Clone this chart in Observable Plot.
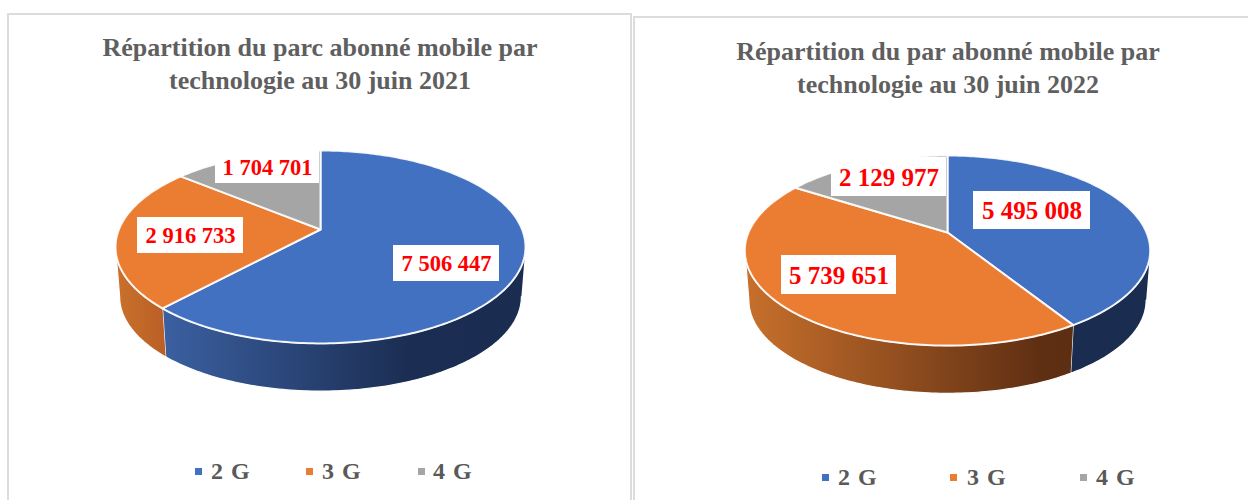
<!DOCTYPE html>
<html lang="fr">
<head>
<meta charset="utf-8">
<script src="https://cdn.jsdelivr.net/npm/d3@7"></script>
<script src="https://cdn.jsdelivr.net/npm/@observablehq/plot@0.6"></script>
<style>
  html, body { margin: 0; padding: 0; background: #fff; }
  #page { position: relative; width: 1248px; height: 500px; overflow: hidden; font-family: "Liberation Serif", serif; }
  .panel { position: absolute; box-sizing: border-box; background: #fff; border: 2px solid #dcdcdc; border-bottom: none; overflow: hidden; }
  .title { position: absolute; left: 0; right: 0; text-align: center; color: #5f5f5f; font-weight: bold; font-size: 26px; line-height: 33px; white-space: nowrap; }
  .legend-item { position: absolute; color: #595959; font-weight: bold; font-size: 24px; line-height: 28px; letter-spacing: 1px; white-space: pre; }
  .swatch { position: absolute; width: 7px; height: 7px; }
  svg { position: absolute; }
</style>
</head>
<body>
<div id="page"></div>
<script>
const technologies = ["2 G", "3 G", "4 G"];
const values2021 = [7506447, 2916733, 1704701];
const values2022 = [5495008, 5739651, 2129977];
const colors = ["#4371C1", "#EA7D32", "#A5A5A5"];

const fmt = d3.formatLocale({thousands: " ", grouping: [3], decimal: ","}).format(",d");

const panels = [
  {
    key: "p21", values: values2021,
    box: {left: 7, top: 13, width: 625, height: 487},
    title: ["Répartition du parc abonné mobile par", "technologie au 30 juin 2021"], titleCx: 320, titleTop: 31,
    cx: 320, cy: 229, A: 201.6, B: 93.3, k: 0.181, s: 0.98, depth: 50,
    boxes: [[393, 499, 245, 281], [137, 243, 217, 253], [215, 319, 150, 183]],
    fontSize: 22.5,
    wallStops: [
      [[0, "#3b60a1"], [0.68, "#1b2d52"], [1, "#1a2c50"]],
      [[0, "#cb712c"], [1, "#b95f26"]],
      [[0, "#7c7c7c"], [1, "#7c7c7c"]]
    ],
    legendSwatch: [195, 306, 418], legendText: [211, 322, 433], legendY: 471
  },
  {
    key: "p22", values: values2022,
    box: {left: 633, top: 16, width: 630, height: 484},
    title: ["Répartition du par abonné mobile par", "technologie au 30 juin 2022"], titleCx: 948, titleTop: 35,
    cx: 947, cy: 232, A: 199, B: 91.6, k: 0.19, s: 0.98, depth: 50,
    boxes: [[973, 1090, 191, 229], [781, 896, 255, 294], [831, 946, 157, 196]],
    fontSize: 25,
    wallStops: [
      [[0, "#1a2c50"], [1, "#1a2c50"]],
      [[0, "#c8702c"], [0.9, "#5f2f13"], [1, "#5e2e12"]],
      [[0, "#7c7c7c"], [1, "#7c7c7c"]]
    ],
    legendSwatch: [822, 950, 1080], legendText: [838, 967, 1096], legendY: 477
  }
];

const page = document.getElementById("page");

function drawPanel(p) {
  const svgTop = 130, svgHeight = 275;
  const total = d3.sum(p.values);
  const cum = d3.cumsum(p.values).map(v => v / total * 360);
  const starts = [0, ...cum.slice(0, -1)];
  const rad = d => d * Math.PI / 180;

  // perspective projection of the disc; scale s and drop give the lower rim
  const project = (deg, s = 1, drop = 0) => {
    const X = Math.sin(rad(deg)), Y = Math.cos(rad(deg)), w = 1 + p.k * Y;
    return {x: p.cx + s * p.A * X / w, y: p.cy + drop - s * p.B * Y / w};
  };
  const sweep = (a, b) => {
    const n = Math.max(2, Math.ceil(Math.abs(b - a)));
    return d3.range(n + 1).map(i => a + (b - a) * i / n);
  };

  // angular range of the visible front wall
  const edge = Math.acos(-p.k) * 180 / Math.PI;
  const visibleFrom = edge, visibleTo = 360 - edge;

  const faces = p.values.map((v, i) => [
    {x: p.cx, y: p.cy},
    ...sweep(starts[i], cum[i]).map(d => project(d)),
    {x: p.cx, y: p.cy}
  ]);

  const walls = p.values.map((v, i) => {
    const a = Math.max(starts[i], visibleFrom), b = Math.min(cum[i], visibleTo);
    if (b <= a) return null;
    return [
      ...sweep(a, b).map(d => project(d)),
      ...sweep(b, a).map(d => project(d, p.s, p.depth))
    ];
  });

  const defs = () => {
    const ns = "http://www.w3.org/2000/svg";
    const g = document.createElementNS(ns, "defs");
    p.wallStops.forEach((stops, i) => {
      const lg = document.createElementNS(ns, "linearGradient");
      lg.setAttribute("id", `${p.key}-wall-${i}`);
      stops.forEach(([o, c]) => {
        const st = document.createElementNS(ns, "stop");
        st.setAttribute("offset", o);
        st.setAttribute("stop-color", c);
        lg.appendChild(st);
      });
      g.appendChild(lg);
    });
    return g;
  };

  const labels = p.values.map((v, i) => {
    const [x1, x2, y1, y2] = p.boxes[i];
    return {x1, x2, y1, y2, x: (x1 + x2) / 2, y: (y1 + y2) / 2 + 0.5, text: fmt(v)};
  });

  const left = p.box.left + 2, width = Math.min(1248 - left, p.box.width - 4);

  const chart = Plot.plot({
    width, height: svgHeight,
    margin: 0,
    x: {domain: [left, left + width], axis: null},
    y: {domain: [svgTop, svgTop + svgHeight], reverse: true, axis: null},
    style: {background: "transparent"},
    marks: [
      defs,
      ...walls.map((w, i) => w && Plot.line(w, {
        x: "x", y: "y",
        fill: `url(#${p.key}-wall-${i})`,
        stroke: "#ffffff", strokeWidth: 1.2, strokeLinejoin: "round"
      })).filter(Boolean),
      ...faces.map((f, i) => Plot.line(f, {
        x: "x", y: "y",
        fill: colors[i],
        stroke: "#ffffff", strokeOpacity: 0.9, strokeWidth: 2, strokeLinejoin: "round"
      })),
      Plot.rect(labels, {x1: "x1", x2: "x2", y1: "y1", y2: "y2", fill: "#ffffff"}),
      Plot.text(labels, {
        x: "x", y: "y", text: "text",
        fill: "#ff0000", fontSize: p.fontSize, fontWeight: "bold",
        fontFamily: "Liberation Serif"
      })
    ]
  });

  const panel = document.createElement("div");
  panel.className = "panel";
  Object.assign(panel.style, {
    left: p.box.left + "px", top: p.box.top + "px",
    width: p.box.width + "px", height: p.box.height + "px"
  });
  page.appendChild(panel);

  const innerL = p.box.left + 2, innerT = p.box.top + 2;

  p.title.forEach((line, i) => {
    const t = document.createElement("div");
    t.className = "title";
    t.textContent = line;
    t.style.top = (p.titleTop - innerT + i * 33) + "px";
    t.style.left = (p.titleCx - innerL - 400) + "px";
    t.style.right = "auto";
    t.style.width = "800px";
    panel.appendChild(t);
  });

  chart.style.left = "0px";
  chart.style.top = (svgTop - innerT) + "px";
  panel.appendChild(chart);

  technologies.forEach((name, i) => {
    const sw = document.createElement("div");
    sw.className = "swatch";
    sw.style.background = colors[i];
    sw.style.left = (p.legendSwatch[i] - innerL) + "px";
    sw.style.top = (p.legendY - 3 - innerT) + "px";
    panel.appendChild(sw);
    const lab = document.createElement("div");
    lab.className = "legend-item";
    lab.textContent = name;
    lab.style.left = (p.legendText[i] - innerL) + "px";
    lab.style.top = (p.legendY - 14 - innerT) + "px";
    panel.appendChild(lab);
  });
}

panels.forEach(drawPanel);
</script>
</body>
</html>
